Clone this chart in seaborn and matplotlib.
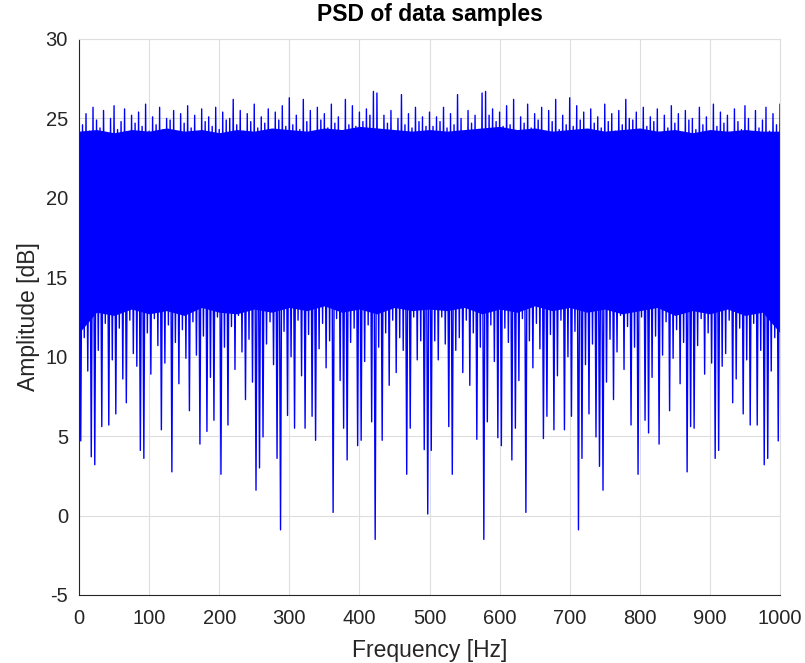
import numpy as np
import pandas as pd
import matplotlib
matplotlib.use("Agg")
import matplotlib.pyplot as plt
import seaborn as sns

# Upper (peak) samples of the spectrum, every 5 Hz from 0 to 1000 Hz
amp_hi = [
    25.9, 24.6, 25.3, 24.2, 25.7, 24.9, 24.4, 25.5, 24.1, 25.0,
    25.8, 24.3, 24.8, 25.6, 24.0, 25.2, 24.7, 25.4, 24.5, 25.9,
    24.2, 25.1, 24.6, 25.7, 24.3, 25.0, 24.9, 25.5, 24.1, 25.3,
    24.7, 25.8, 24.4, 25.2, 24.0, 25.6, 24.8, 25.1, 24.5, 25.7,
    24.3, 25.4, 24.9, 25.0, 26.2, 24.6, 25.5, 24.2, 25.3, 24.8,
    25.9, 24.4, 25.1, 24.7, 25.6, 24.1, 25.4, 24.9, 25.8, 24.5,
    26.3, 24.6, 25.2, 24.3, 26.2, 24.8, 25.5, 24.0, 25.7, 24.9,
    25.3, 24.4, 25.9, 24.7, 25.1, 24.2, 26.2, 24.6, 25.8, 24.5,
    25.4, 24.8, 25.6, 25.2, 26.7, 26.6, 24.3, 25.2, 24.7, 25.5,
    24.1, 25.0, 26.5, 24.6, 25.3, 24.4, 25.7, 24.8, 25.1, 24.5,
    25.4,
    24.5, 25.1, 24.8, 25.7, 24.4, 25.3, 24.6, 26.5, 25.0, 24.1,
    25.5, 24.7, 25.2, 24.3, 26.6, 26.7, 25.2, 25.6, 24.8, 25.4,
    24.5, 25.8, 24.6, 26.2, 24.2, 25.1, 24.7, 25.9, 24.4, 25.3,
    24.9, 25.7, 24.0, 25.5, 24.8, 26.2, 24.3, 25.2, 24.6, 26.3,
    24.5, 25.8, 24.9, 25.4, 24.1, 25.6, 24.7, 25.1, 24.4, 25.9,
    24.8, 25.3, 24.2, 25.5, 24.6, 26.2, 25.0, 24.9, 25.4, 24.3,
    25.7, 24.5, 25.1, 24.8, 25.6, 24.0, 25.2, 24.4, 25.8, 24.7,
    25.3, 24.1, 25.5, 24.9, 25.0, 24.3, 25.7, 24.6, 25.1, 24.2,
    25.9, 24.5, 25.4, 24.7, 25.2, 24.0, 25.6, 24.8, 24.3, 25.8,
    25.0, 24.1, 25.5, 24.4, 24.9, 25.7, 24.2, 25.3, 24.6, 25.9,
]

# Lower (trough) samples of the spectrum, every 5 Hz from 2.5 to 997.5 Hz
amp_lo = [
    4.7, 11.2, 9.1, 3.7, 3.2, 10.4, 5.6, 12.1, 5.7, 9.8,
    6.4, 11.8, 8.6, 7.1, 12.3, 10.2, 9.4, 4.1, 3.6, 11.5,
    8.9, 12.4, 10.7, 5.4, 9.6, 12.0, 2.75, 10.9, 8.3, 11.7,
    9.9, 6.6, 12.2, 10.1, 4.5, 11.3, 5.3, 8.7, 6.0, 12.5,
    2.6, 10.6, 5.7, 11.9, 9.2, 12.6, 10.3, 7.3, 11.1, 8.4,
    1.6, 3.0, 4.95, 10.8, 12.2, 9.5, 3.6, -0.9, 11.6, 6.3,
    10.0, 5.5, 12.3, 8.8, 5.5, 11.4, 6.25, 4.74, 10.5, 12.1,
    9.3, 11.0, 0.2, 12.4, 8.5, 5.5, 3.5, 10.9, 11.8, 4.4,
    4.74, 9.7, 12.0, 5.9, -1.5, 10.6, 4.74, 11.5, 8.2, 12.3,
    9.0, 11.2, 10.4, 2.6, 5.5, 12.5, 9.8, 11.0, 4.15, 0.1,
    4.1, 11.0, 9.8, 12.5, 10.8, 5.6, 2.6, 10.4, 11.2, 9.0,
    12.3, 8.2, 11.5, 4.8, 10.6, -1.5, 5.9, 12.0, 9.7, 4.9,
    4.4, 11.8, 10.9, 3.5, 5.5, 8.5, 12.4, 0.2, 11.0, 9.3,
    12.1, 10.5, 4.85, 6.25, 11.4, 5.4, 8.8, 12.3, 5.4, 10.0,
    6.25, 11.6, -0.9, 3.6, 9.5, 6.4, 10.8, 4.95, 3.1, 1.6,
    8.4, 11.1, 7.3, 10.3, 12.6, 9.2, 11.9, 5.7, 10.6, 2.6,
    12.5, 6.0, 5.2, 8.7, 11.3, 4.5, 10.1, 12.2, 6.6, 9.9,
    11.7, 8.3, 10.9, 2.75, 5.6, 5.5, 10.7, 12.4, 8.9, 11.5,
    9.6, 3.6, 4.1, 9.4, 10.2, 12.3, 7.1, 8.6, 11.8, 6.4,
    9.8, 5.7, 12.1, 5.7, 10.4, 3.2, 3.6, 9.1, 11.2, 4.7,
]

# Dense (solid-looking) core of the trace, every 25 Hz from 0 to 1000 Hz
core_top = [
    24.2, 24.3, 24.1, 24.3, 24.2, 24.4, 24.2, 24.3, 24.1, 24.3,
    24.2, 24.4, 24.3, 24.2, 24.4, 24.3, 24.5, 24.4, 24.3, 24.2,
    24.3, 24.2, 24.3, 24.4, 24.5, 24.3, 24.4, 24.2, 24.3, 24.4,
    24.2, 24.3, 24.4, 24.2, 24.3, 24.1, 24.3, 24.2, 24.3, 24.2,
    24.2,
]
core_bottom = [
    11.5, 12.8, 12.6, 13.0, 12.7, 12.9, 12.6, 13.1, 12.8, 12.7,
    13.0, 12.8, 13.1, 12.9, 13.2, 12.8, 13.0, 12.7, 13.1, 12.9,
    13.0, 12.9, 13.1, 12.7, 13.0, 12.8, 13.2, 12.9, 13.1, 12.8,
    13.0, 12.7, 12.9, 13.1, 12.6, 12.9, 12.7, 13.0, 12.6, 12.8,
    11.5,
]

freq_hi = np.linspace(0, 1000, len(amp_hi))
freq_lo = np.linspace(2.5, 997.5, len(amp_lo))
freq_core = np.linspace(0, 1000, len(core_top))

x_ticks = [0, 100, 200, 300, 400, 500, 600, 700, 800, 900, 1000]
y_ticks = [-5, 0, 5, 10, 15, 20, 25, 30]

df = pd.DataFrame({
    "freq": np.concatenate([freq_hi, freq_lo]),
    "amp": np.concatenate([amp_hi, amp_lo]),
}).sort_values("freq").reset_index(drop=True)

sns.set_style("white")
plt.rcParams["font.family"] = ["Liberation Sans", "DejaVu Sans"]
plt.rcParams["path.simplify"] = False
plt.rcParams["agg.path.chunksize"] = 0

fig = plt.figure(figsize=(8.05, 6.63), dpi=100)
ax = fig.add_axes([79 / 805, 1 - 595 / 663, (780 - 79) / 805, (595 - 39) / 663])

blue = "#0000ff"
ax.fill_between(freq_core, core_bottom, core_top, color=blue, linewidth=0)
sns.lineplot(data=df, x="freq", y="amp", ax=ax, color=blue,
             linewidth=1.0, estimator=None, sort=True)

ax.set_xlim(0, 1000)
ax.set_ylim(-5, 30)
ax.set_xticks(x_ticks)
ax.set_yticks(y_ticks)
ax.set_xticklabels([str(v) for v in x_ticks])
ax.set_yticklabels([str(v) for v in y_ticks])

dark = "#262626"
gridc = "#dedede"
ax.grid(True, color=gridc, linewidth=0.8)
ax.set_axisbelow(True)
for s in ["left", "bottom"]:
    ax.spines[s].set_color(dark)
    ax.spines[s].set_linewidth(0.8)
for s in ["top", "right"]:
    ax.spines[s].set_color(gridc)
    ax.spines[s].set_linewidth(0.8)

ax.tick_params(axis="both", direction="in", length=5, width=0.8,
               color=dark, labelcolor=dark, labelsize=14.5)
ax.tick_params(axis="x", pad=10)
ax.tick_params(axis="y", pad=8)

ax.set_xlabel("Frequency [Hz]", fontsize=16.5, color=dark, labelpad=8)
ax.set_ylabel("Amplitude [dB]", fontsize=16.5, color=dark, labelpad=4)
ax.set_title("PSD of data samples", fontsize=16.5, fontweight="bold",
             color="black", pad=13)

fig.savefig("out.png", dpi=100)
